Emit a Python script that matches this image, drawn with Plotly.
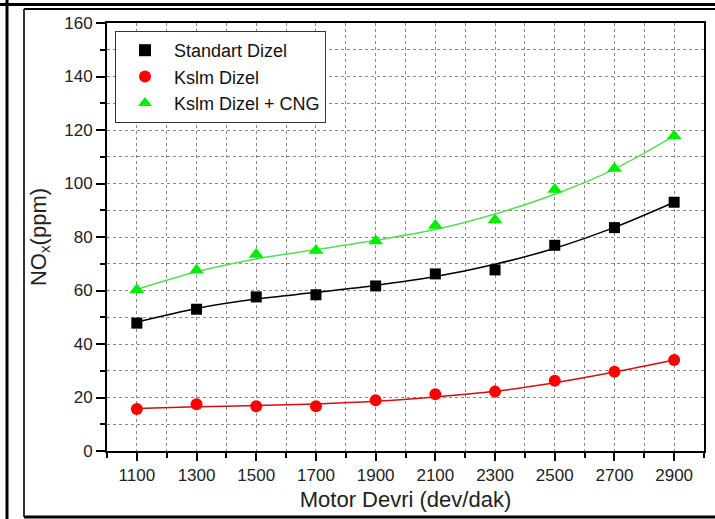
import plotly.graph_objects as go

rpm = [1100, 1300, 1500, 1700, 1900, 2100, 2300, 2500, 2700, 2900]

standart = [47.8, 53.0, 57.6, 58.4, 61.7, 66.2, 67.7, 76.9, 83.5, 93.0]
kslm = [15.7, 17.5, 16.7, 16.7, 19.0, 21.2, 22.2, 26.3, 29.6, 34.0]
kslm_cng = [60.3, 67.6, 73.5, 75.0, 78.5, 84.3, 86.4, 97.8, 105.6, 117.8]

standart_fit = [48.2, 53.3, 56.8, 59.3, 61.9, 65.2, 69.8, 75.8, 83.6, 93.0]
kslm_fit = [15.9, 16.5, 17.0, 17.6, 18.6, 20.2, 22.3, 25.5, 29.5, 34.0]
kslm_cng_fit = [60.4, 67.0, 71.8, 75.3, 78.8, 82.8, 88.6, 96.0, 105.4, 117.8]

names = ["Standart Dizel", "Kslm Dizel", "Kslm Dizel + CNG"]
colors = ["#000000", "#ff0000", "#00ee00"]
line_colors = ["#000000", "#d01010", "#55dd55"]
symbols = ["square", "circle", "triangle-up"]
sizes = [11, 12, 13]

fig = go.Figure()
for fit, lc in zip([standart_fit, kslm_fit, kslm_cng_fit], line_colors):
    fig.add_trace(go.Scatter(x=rpm, y=fit, mode="lines", showlegend=False,
                             line=dict(color=lc, width=1.5, shape="spline", smoothing=0.9),
                             hoverinfo="skip"))
for vals, nm, c, s, sz in zip([standart, kslm, kslm_cng], names, colors, symbols, sizes):
    fig.add_trace(go.Scatter(x=rpm, y=vals, mode="markers", name=nm,
                             marker=dict(color=c, symbol=s, size=sz, line=dict(width=0))))

font_family = "Liberation Sans, Arial, sans-serif"
L, R, T, B = 107, 11, 23, 68
W, H = 715, 519
pw, ph = W - L - R, H - T - B

def px(x):
    return (x - L) / pw

def py(y):
    return (H - B - y) / ph

shapes = [
    dict(type="line", xref="paper", yref="paper", x0=px(0), x1=px(715), y0=py(4.5), y1=py(4.5),
         line=dict(color="black", width=3)),
    dict(type="line", xref="paper", yref="paper", x0=px(24), x1=px(715), y0=py(9), y1=py(9),
         line=dict(color="black", width=2)),
    dict(type="line", xref="paper", yref="paper", x0=px(7), x1=px(7), y0=py(0), y1=py(519),
         line=dict(color="black", width=3)),
    dict(type="line", xref="paper", yref="paper", x0=px(24), x1=px(24), y0=py(9), y1=py(517),
         line=dict(color="#333333", width=2)),
    dict(type="line", xref="paper", yref="paper", x0=px(24), x1=px(715), y0=py(517), y1=py(517),
         line=dict(color="black", width=3)),
]

fig.update_layout(
    width=W, height=H,
    margin=dict(l=L, r=R, t=T, b=B, autoexpand=False),
    paper_bgcolor="white", plot_bgcolor="white",
    font=dict(family=font_family, color="#222222", size=17),
    shapes=shapes,
    showlegend=True,
    legend=dict(x=px(115), y=py(31), xanchor="left", yanchor="top",
                bgcolor="white", bordercolor="#333333", borderwidth=1,
                font=dict(size=18, family=font_family, color="#111111"),
                tracegroupgap=0, itemsizing="constant", itemwidth=48),
    xaxis=dict(range=[1000, 3000], tick0=1100, dtick=200, ticks="outside", ticklen=8,
               tickwidth=2, tickcolor="black", automargin=False,
               showline=True, linecolor="black", linewidth=2, mirror=True,
               showgrid=True, gridcolor="#888888", griddash="dot", gridwidth=1,
               zeroline=False,
               minor=dict(dtick=100, tick0=1000, ticks="outside", ticklen=5, tickwidth=2,
                          tickcolor="black", showgrid=True, gridcolor="#888888",
                          griddash="dot", gridwidth=1),
               title=dict(text="Motor Devri (dev/dak)", font=dict(size=22, color="#222222"),
                          standoff=7),
               tickfont=dict(size=17)),
    yaxis=dict(range=[0, 160], dtick=20, ticks="outside", ticklen=9, tickwidth=2,
               tickcolor="black", automargin=False,
               showline=True, linecolor="black", linewidth=2, mirror=True,
               showgrid=True, gridcolor="#888888", griddash="dot", gridwidth=1,
               zeroline=False,
               minor=dict(dtick=10, ticks="outside", ticklen=5, tickwidth=2,
                          tickcolor="black", showgrid=True, gridcolor="#888888",
                          griddash="dot", gridwidth=1),
               title=dict(text="NO<sub>x</sub>(ppm)", font=dict(size=22, color="#222222"),
                          standoff=12),
               tickfont=dict(size=17)),
)

fig.write_html("out.html")
